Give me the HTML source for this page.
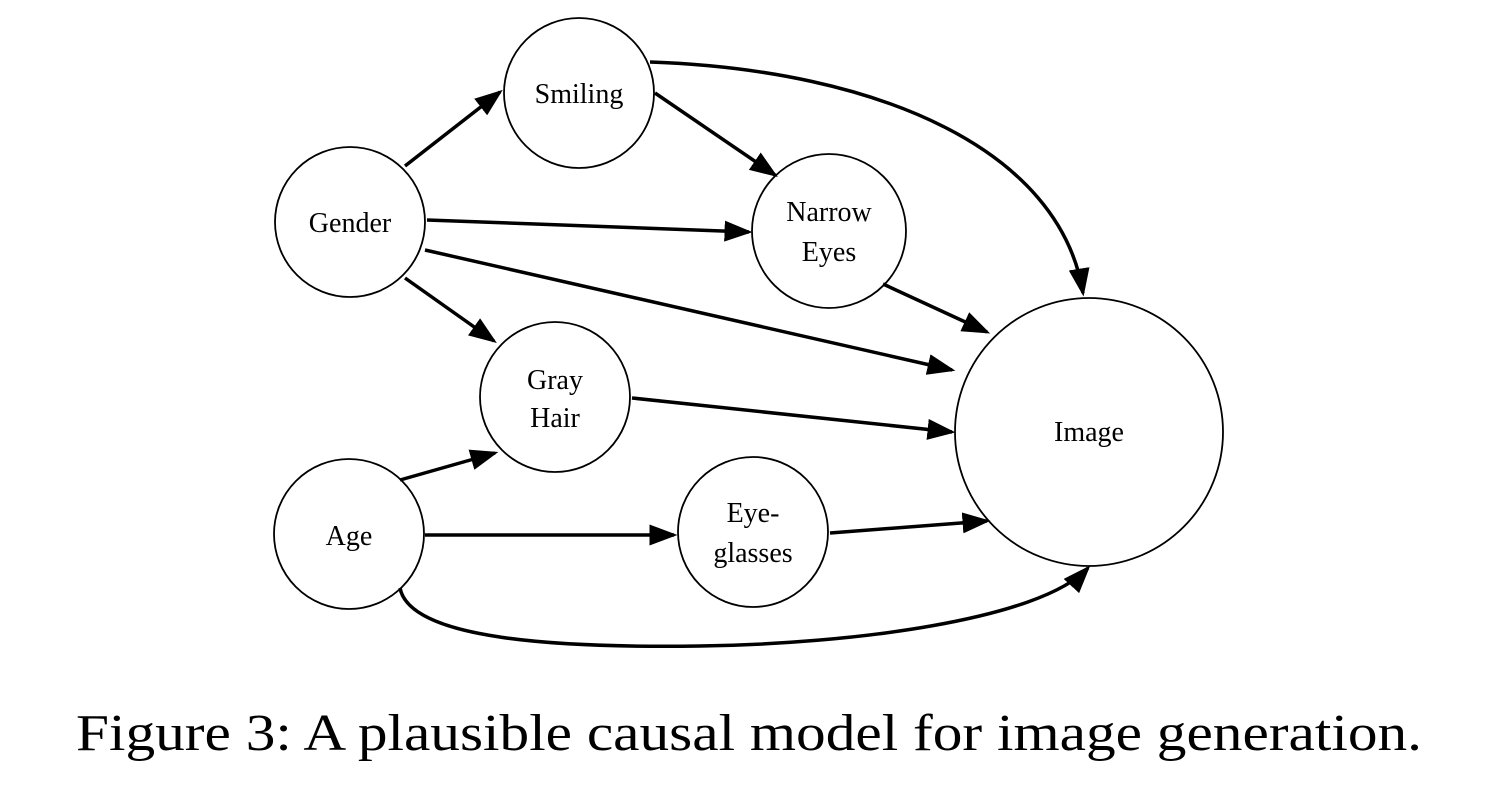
<!DOCTYPE html>
<html><head><meta charset="utf-8"><style>
html,body{margin:0;padding:0;background:#fff;}
svg{display:block;}
text{font-family:"Liberation Serif",serif;fill:#000;}
</style></head><body>
<svg width="1502" height="794" viewBox="0 0 1502 794" xmlns="http://www.w3.org/2000/svg">
<defs>
<marker id="a" markerWidth="8" markerHeight="6" refX="7" refY="3" orient="auto" markerUnits="strokeWidth">
<path d="M0,0 L8,3 L0,6 Z" fill="#000"/>
</marker>
</defs>
<g fill="none" stroke="#000" stroke-width="1.8">
<circle cx="579" cy="93" r="75"/>
<circle cx="350" cy="222" r="75"/>
<circle cx="829" cy="231" r="77"/>
<circle cx="555" cy="397" r="75"/>
<circle cx="349" cy="534" r="75"/>
<circle cx="753" cy="532" r="75"/>
<circle cx="1089" cy="432" r="134"/>
</g>
<g fill="none" stroke="#000" stroke-width="3.5" marker-end="url(#a)">
<line x1="405" y1="166" x2="500" y2="92"/>
<line x1="655" y1="93" x2="775" y2="175"/>
<line x1="427" y1="220" x2="749" y2="232"/>
<line x1="425" y1="250" x2="952" y2="370"/>
<line x1="405" y1="278" x2="494" y2="341"/>
<line x1="632" y1="398" x2="952" y2="432"/>
<line x1="400" y1="480" x2="495" y2="453"/>
<line x1="425" y1="535" x2="674" y2="535"/>
<line x1="830" y1="533" x2="987" y2="521"/>
<line x1="883" y1="284" x2="987" y2="332"/>
<path d="M650,62 C880,70 1060,150 1083,293"/>
<path d="M400,588 C410,640 560,648 700,646 C850,644 1040,620 1088,568"/>
</g>
<g font-size="28" text-anchor="middle">
<text x="579" y="103">Smiling</text>
<text x="350" y="232">Gender</text>
<text x="829" y="221">Narrow</text>
<text x="829" y="261">Eyes</text>
<text x="555" y="389">Gray</text>
<text x="555" y="427">Hair</text>
<text x="349" y="545">Age</text>
<text x="753" y="522">Eye-</text>
<text x="753" y="562">glasses</text>
<text x="1089" y="441">Image</text>
</g>
<text x="76" y="750" font-size="52" textLength="1346" lengthAdjust="spacingAndGlyphs">Figure 3: A plausible causal model for image generation.</text>
</svg>
</body></html>
